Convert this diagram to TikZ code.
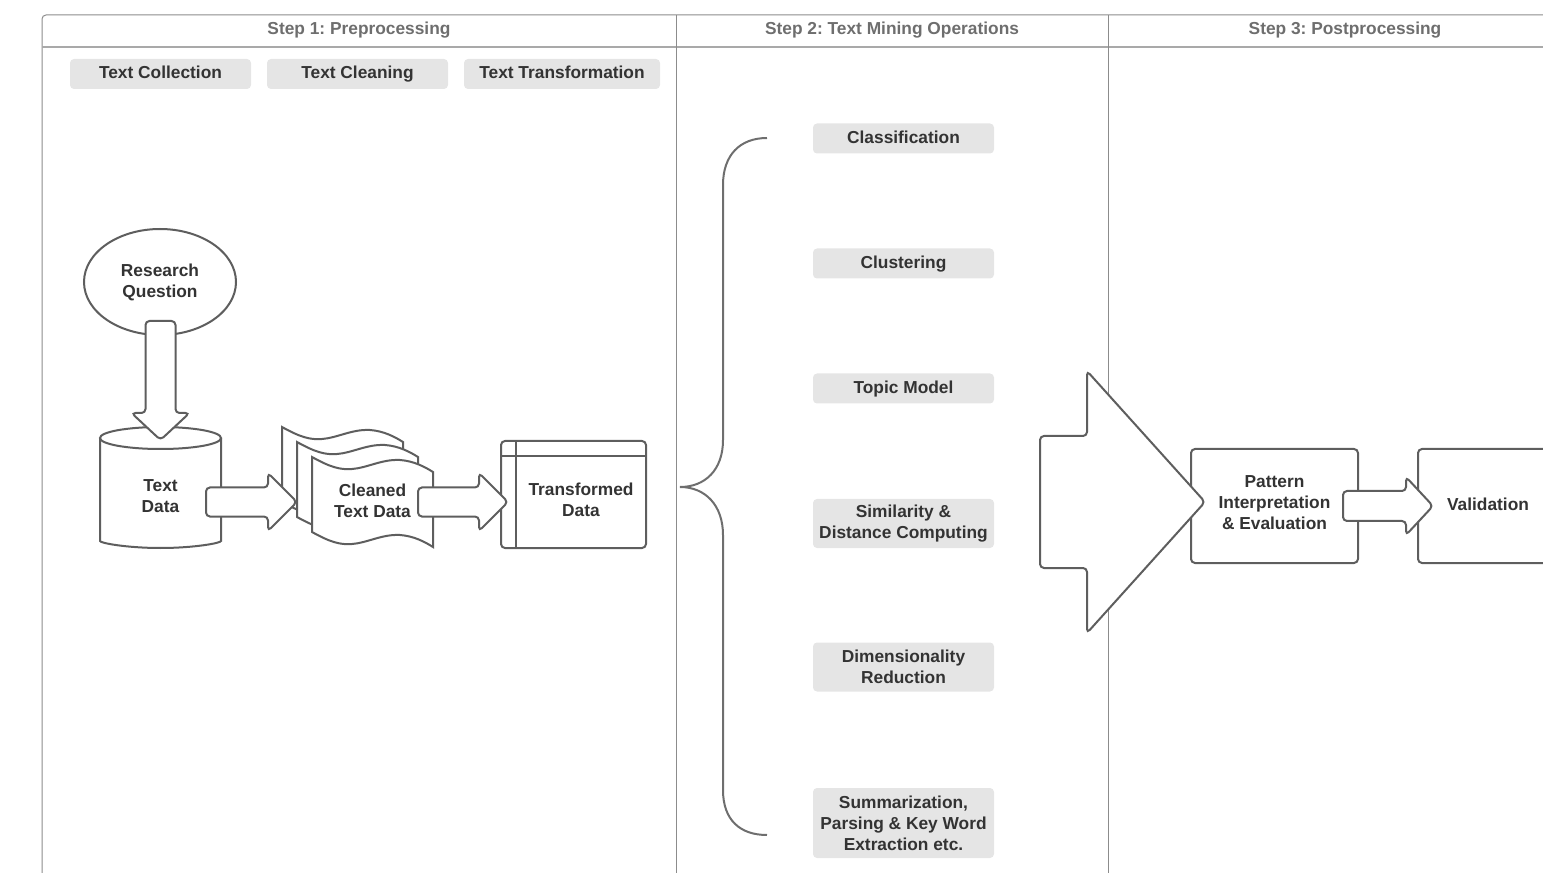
\documentclass[tikz,border=0pt]{standalone}
\usepackage{fontspec}
\setmainfont{Liberation Sans}
\usetikzlibrary{positioning, calc, shapes.geometric}
\frenchspacing

\definecolor{linegray}{HTML}{5E5E5E}
\definecolor{framegray}{HTML}{8C8C8C}
\definecolor{headgray}{HTML}{6E6E6E}
\definecolor{tagfill}{HTML}{E5E5E5}
\definecolor{txt}{HTML}{333333}

\tikzset{
  every node/.style={font=\bfseries\fontsize{13}{15.75}\selectfont, text=txt, align=center},
  oneline/.style={text height=10pt, text depth=2.5pt},
  head/.style={oneline, text=headgray},
  tag/.style={fill=tagfill, rounded corners=3pt, minimum width=135.75pt, minimum height=22.5pt, inner sep=0pt},
  shp/.style={draw=linegray, line width=1.5pt, fill=white, rounded corners=3pt, outer sep=0pt},
  harrow/.style n args={3}{to path={let \p1=(\tikztostart), \p2=(\tikztotarget) in
      (\x1,\y1+#1) -- (\x2-#3,\y1+#1) -- (\x2-#3,\y1+#2) -- (\x2,\y2)
      -- (\x2-#3,\y1-#2) -- (\x2-#3,\y1-#1) -- (\x1,\y1-#1) -- cycle}},
  varrow/.style n args={3}{to path={let \p1=(\tikztostart), \p2=(\tikztotarget) in
      (\x1-#1,\y1) -- (\x1-#1,\y2+#3) -- (\x1-#2,\y2+#3) -- (\x2,\y2)
      -- (\x1+#2,\y2+#3) -- (\x1+#1,\y2+#3) -- (\x1+#1,\y1) -- cycle}},
}

\begin{document}
\begin{tikzpicture}[x=0.75pt, y=-0.75pt]
	\useasboundingbox (0,0) rectangle (1543,873);
	\clip (0,0) rectangle (1543,873);

	% Frame and columns
	\draw[framegray, line width=0.75pt, rounded corners=3pt] (1560,15) -- (42,15) -- (42,890);
	\draw[framegray!75, line width=1.5pt] (42,47) -- (1560,47);
	\foreach \x in {676,1108}
		\draw[framegray, line width=0.75pt] (\x,15) -- (\x,890);

	\node[head] (h1) at (359,30) {Step 1: Preprocessing};
	\node[head] (h2) at (892,30) {Step 2: Text Mining Operations};
	\node[head] (h3) at (1345,30) {Step 3: Postprocessing};

	% Step 1 labels
	\node[tag, oneline] (collect) at (160.5,74) {Text Collection};
	\node[tag, oneline] (cleaning) at (357.5,74) {Text Cleaning};
	\node[tag, oneline, minimum width=147pt] (transform) at (562,74) {Text Transformation};

	% Text mining operations
	\node[tag, oneline] (classif) at (903.5,138.5) {Classification};
	\node[tag, oneline] (cluster) at (903.5,263.5) {Clustering};
	\node[tag, oneline] (topic) at (903.5,388.5) {Topic Model};
	\node[tag, minimum height=36.75pt] (simil) at (903.5,523.5) {Similarity \&\\Distance Computing};
	\node[tag, minimum height=36.75pt] (dimred) at (903.5,667) {Dimensionality\\Reduction};
	\node[tag, minimum height=52.5pt] (summ) at (903.5,823) {Summarization,\\Parsing \& Key Word\\Extraction etc.};

	% Brace
	\coordinate (btop) at (767,138);
	\coordinate (btip) at (680,487);
	\coordinate (bbot) at (767,835);
	\draw[linegray!90, line width=1.5pt] (btop) .. controls (740,138) and (723,155) .. (723,185) -- (723,440)
		.. controls (723,470) and (705,487) .. (btip)
		.. controls (705,487) and (723,505) .. (723,535) -- (723,790)
		.. controls (723,820) and (740,835) .. (bbot);

	% Research question, text data
	\node[shp, ellipse, minimum width=114pt, minimum height=79.5pt] (rq) at (160,282) {Research\\Question};
	\draw[shp] (100,438) -- (100,537) arc[start angle=180, end angle=0, x radius=60.5, y radius=11] -- (221,438);
	\draw[shp] (160.5,438) ellipse [x radius=60.5, y radius=11];
	\node (data) at (160.5,496) {Text\\Data};

	% Cleaned documents
	\foreach \dx/\dy in {282/427, 297/442, 312/457}
		\draw[shp, sharp corners, shift={(\dx,\dy)}] (0,0) .. controls (18,10) and (28,13) .. (40,12)
			.. controls (55,11) and (70,2) .. (88,3) .. controls (102,4) and (113,10) .. (121,15) -- (121,90)
			.. controls (113,85) and (102,79) .. (88,78) .. controls (70,77) and (55,86) .. (40,87)
			.. controls (28,88) and (18,85) .. (0,75) -- cycle;
	\node (clean) at (372.5,501) {Cleaned\\Text Data};

	% Transformed data
	\node[shp, minimum width=108.75pt, minimum height=80.25pt] (tdata) at (573.5,494.5) {};
	\draw[linegray, line width=1.5pt] ([xshift=11.25pt]tdata.north west) -- ([xshift=11.25pt]tdata.south west);
	\draw[linegray, line width=1.5pt] ([yshift=-11.25pt]tdata.north west) -- ([yshift=-11.25pt]tdata.north east);
	\node (tdtext) at (581,500) {Transformed\\Data};

	% Step 3
	\node[shp, minimum width=125.25pt, minimum height=85.5pt] (pattern) at (1274.5,506) {};
	\node (pattext) at (1274.5,503) {Pattern\\Interpretation\\\& Evaluation};
	\node[shp, oneline, minimum width=105pt, minimum height=85.5pt] (valid) at (1488,506) {Validation};

	% Block arrows
	\coordinate (a0s) at (160.5,321);
	\coordinate (a0t) at (160.5,440);
	\draw[shp, varrow={11.25pt}{21.75pt}{20.25pt}] (a0s) to (a0t);
	\coordinate (a1s) at (206,502);
	\coordinate (a1t) at (297,502);
	\draw[shp, harrow={10.9pt}{21.75pt}{21.75pt}] (a1s) to (a1t);
	\coordinate (a2s) at (418,502);
	\coordinate (a2t) at (508,502);
	\draw[shp, harrow={10.9pt}{21.75pt}{21.75pt}] (a2s) to (a2t);
	\coordinate (a3s) at (1040,502);
	\coordinate (a3t) at (1205,502);
	\draw[shp, harrow={49.5pt}{98.25pt}{88.5pt}] (a3s) to (a3t);
	\coordinate (a4s) at (1343,506);
	\coordinate (a4t) at (1433,506);
	\draw[shp, harrow={11.25pt}{21.75pt}{20.25pt}] (a4s) to (a4t);

\end{tikzpicture}
\end{document}
